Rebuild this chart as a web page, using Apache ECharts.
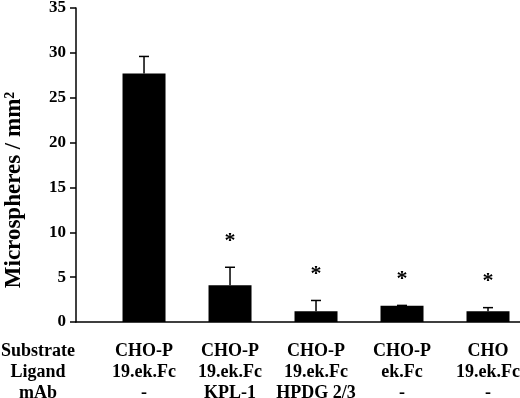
<!DOCTYPE html>
<html>
<head>
<meta charset="utf-8">
<script src="https://cdn.jsdelivr.net/npm/echarts@6/dist/echarts.min.js"></script>
<style>
  html, body { margin: 0; padding: 0; background: #fff; }
  #chart { width: 520px; height: 398px; }
</style>
</head>
<body>
<div id="chart"></div>
<script>
// condition labels (substrate / ligand / mAb)
var substrates = ['CHO-P', 'CHO-P', 'CHO-P', 'CHO-P', 'CHO'];
var ligands = ['19.ek.Fc', '19.ek.Fc', '19.ek.Fc', 'ek.Fc', '19.ek.Fc'];
var mabs = ['-', 'KPL-1', 'HPDG 2/3', '-', '-'];
var rowNames = ['Substrate', 'Ligand', 'mAb'];

// microspheres / mm2, mean and upper error
var means = [27.7, 4.1, 1.2, 1.8, 1.2];
var errs = [1.9, 2.0, 1.2, 0.05, 0.4];
var signif = [false, true, true, true, true];

var yTicks = [0, 5, 10, 15, 20, 25, 30, 35];

var positions = means.map(function (v, i) { return i + 1; });
var font = '"Liberation Serif", "Times New Roman", serif';

var chart = echarts.init(document.getElementById('chart'));

var option = {
    backgroundColor: '#fff',
    animation: false,
    grid: { left: 76, right: 0, top: 8, bottom: 76, outerBoundsMode: 'none', containLabel: false },
    xAxis: {
        type: 'value',
        min: 0.209,
        max: 5.372,
        splitLine: { show: false },
        axisLine: { show: true, lineStyle: { color: '#000', width: 1.5 } },
        axisTick: { show: false },
        axisLabel: {
            customValues: positions,
            margin: 19,
            color: '#000',
            fontFamily: font,
            fontWeight: 'bold',
            fontSize: 18,
            lineHeight: 21,
            verticalAlign: 'top',
            formatter: function (v) {
                var i = Math.round(v) - 1;
                return substrates[i] + '\n' + ligands[i] + '\n' + mabs[i];
            }
        }
    },
    yAxis: {
        type: 'value',
        min: 0,
        max: 35,
        interval: 5,
        name: 'Microspheres / mm\u00b2',
        nameLocation: 'middle',
        nameRotate: 90,
        nameGap: 50,
        nameTextStyle: {
            color: '#000', fontFamily: font, fontWeight: 'bold', fontSize: 23,
            padding: [0, 50, 0, 0]
        },
        splitLine: { show: false },
        axisLine: { show: true, lineStyle: { color: '#000', width: 1.5 } },
        axisTick: { show: true, length: 6, lineStyle: { color: '#000', width: 1.5 } },
        axisLabel: {
            margin: 10,
            color: '#000',
            fontFamily: font,
            fontWeight: 'bold',
            fontSize: 17,
            formatter: function (v) { return yTicks.indexOf(v) >= 0 ? String(v) : ''; }
        }
    },
    graphic: [{
        type: 'text',
        x: 38,
        y: 341,
        style: {
            text: rowNames.join('\n'),
            fill: '#000',
            font: 'bold 18px ' + font,
            lineHeight: 21,
            align: 'center',
            verticalAlign: 'top'
        }
    }],
    series: [
        {
            type: 'bar',
            barWidth: 43,
            itemStyle: { color: '#000' },
            data: means.map(function (v, i) { return [positions[i], v]; })
        },
        {
            type: 'custom',
            data: means.map(function (v, i) { return [positions[i], v, v + errs[i], signif[i] ? 1 : 0]; }),
            renderItem: function (params, api) {
                var x = api.value(0);
                var base = api.coord([x, api.value(1)]);
                var top = api.coord([x, api.value(2)]);
                var children = [
                    { type: 'line', shape: { x1: base[0], y1: base[1], x2: top[0], y2: top[1] },
                      style: { stroke: '#000', lineWidth: 1.5 } },
                    { type: 'line', shape: { x1: top[0] - 5, y1: top[1], x2: top[0] + 5, y2: top[1] },
                      style: { stroke: '#000', lineWidth: 1.5 } }
                ];
                if (api.value(3)) {
                    children.push({
                        type: 'text',
                        style: {
                            text: '*', x: top[0], y: top[1] - 26,
                            align: 'center', verticalAlign: 'middle',
                            fill: '#000', font: 'bold 22px ' + font
                        }
                    });
                }
                return { type: 'group', children: children };
            }
        }
    ]
};

chart.setOption(option);
</script>
</body>
</html>
